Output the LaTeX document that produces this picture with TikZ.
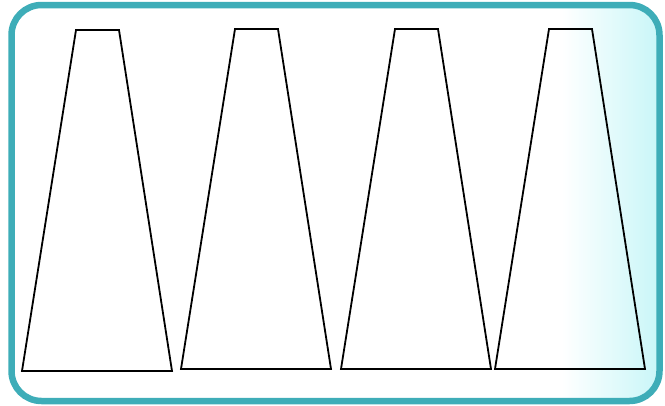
\documentclass[tikz,border=0pt]{standalone}
\usepackage{tikz}
\definecolor{frameteal}{RGB}{62,173,184}
\definecolor{glowcyan}{RGB}{200,246,248}

\begin{document}
\begin{tikzpicture}[x=1pt,y=-1pt, cone/.style={draw=black,line width=1.8pt,line join=miter}]
\useasboundingbox (0,0) rectangle (665,405);
% background glow on the right
\begin{scope}
\clip[rounded corners=30pt] (11.5,5) rectangle (659.5,401);
\shade[left color=white,right color=glowcyan] (562,0) rectangle (660,405);
\end{scope}
\draw[frameteal,line width=6.5pt,rounded corners=30pt] (11.5,5) rectangle (659.5,401);
% the four trapezoids
\draw[cone] (22,371) -- (76,30) -- (119,30) -- (172,371) -- cycle;
\draw[cone] (181,369) -- (235,29) -- (278,29) -- (331,369) -- cycle;
\draw[cone] (341,369) -- (395,29) -- (438,29) -- (491,369) -- cycle;
\draw[cone] (495,369) -- (549,29) -- (592,29) -- (645,369) -- cycle;
\end{tikzpicture}
\end{document}
